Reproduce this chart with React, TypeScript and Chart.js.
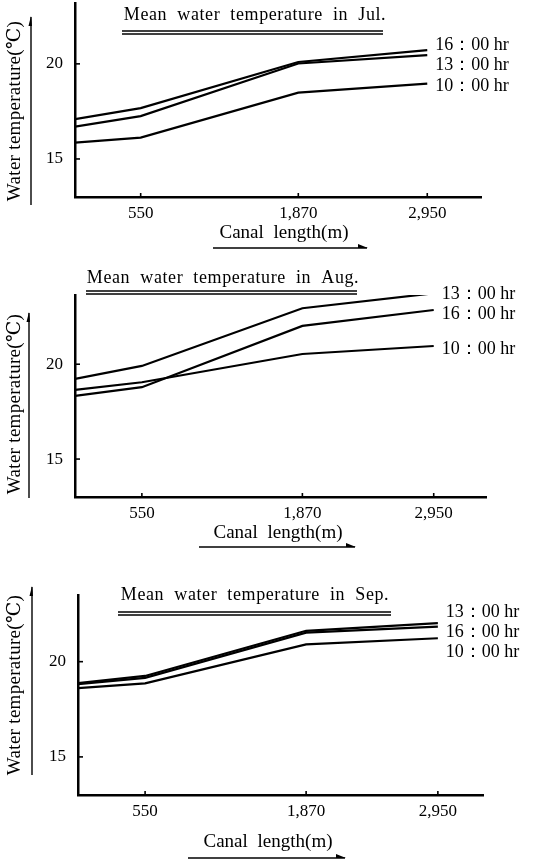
import React, { useEffect, useRef } from "react";
import { Chart, registerables } from "chart.js";

Chart.register(...registerables);

// ---- data ----
const canalLength = [0, 550, 1870, 2950];
const xTickValues = [550, 1870, 2950];
const yTickValues = [15, 20];
const timeLabels = ["10：00 hr", "13：00 hr", "16：00 hr"];

const julTemp10 = [15.86, 16.12, 18.49, 18.96];
const julTemp13 = [16.7, 17.25, 20.02, 20.46];
const julTemp16 = [17.09, 17.67, 20.1, 20.72];

const augTemp10 = [18.65, 19.05, 20.54, 20.96];
const augTemp13 = [19.23, 19.91, 22.95, 23.74];
const augTemp16 = [18.33, 18.79, 22.02, 22.86];

const sepTemp10 = [18.61, 18.86, 20.91, 21.23];
const sepTemp13 = [18.88, 19.25, 21.62, 22.02];
const sepTemp16 = [18.82, 19.15, 21.52, 21.84];

const FONT = '"Liberation Serif", "Times New Roman", "DejaVu Serif", serif';

type Panel = {
  key: string;
  height: number;
  chartTop: number;
  chartBottom: number;
  chartLeft: number;
  chartRight: number;
  yMax: number;
  xMax: number;
  title: string;
  titleX: number;
  titleY: number;
  ulX1: number;
  ulX2: number;
  ulY: number;
  yTitleX: number;
  yTitleY: number;
  yArrowX: number;
  yArrowTop: number;
  yArrowBottom: number;
  xTitleX: number;
  xTitleY: number;
  xArrowY: number;
  xArrowX1: number;
  xArrowX2: number;
  series: number[][];
};

const panels: Panel[] = [
  {
    key: "jul", height: 260, chartTop: 3, chartBottom: 197, chartLeft: 75, chartRight: 481,
    yMax: 23.2, xMax: 3400,
    title: "Mean water temperature in Jul.", titleX: 255, titleY: 15, ulX1: 122, ulX2: 383, ulY: 31,
    yTitleX: 15, yTitleY: 111, yArrowX: 31, yArrowTop: 17, yArrowBottom: 205,
    xTitleX: 284, xTitleY: 233, xArrowY: 248, xArrowX1: 213, xArrowX2: 367,
    series: [julTemp10, julTemp13, julTemp16],
  },
  {
    key: "aug", height: 300, chartTop: 35, chartBottom: 237, chartLeft: 75, chartRight: 486,
    yMax: 23.65, xMax: 3380,
    title: "Mean water temperature in Aug.", titleX: 223, titleY: 18, ulX1: 86, ulX2: 357, ulY: 31,
    yTitleX: 15, yTitleY: 144, yArrowX: 29, yArrowTop: 53, yArrowBottom: 238,
    xTitleX: 278, xTitleY: 273, xArrowY: 287, xArrowX1: 199, xArrowX2: 355,
    series: [augTemp10, augTemp13, augTemp16],
  },
  {
    key: "sep", height: 304, chartTop: 35, chartBottom: 235, chartLeft: 78, chartRight: 483,
    yMax: 23.5, xMax: 3320,
    title: "Mean water temperature in Sep.", titleX: 255, titleY: 35, ulX1: 118, ulX2: 391, ulY: 52,
    yTitleX: 15, yTitleY: 125, yArrowX: 32, yArrowTop: 27, yArrowBottom: 215,
    xTitleX: 268, xTitleY: 282, xArrowY: 298, xArrowX1: 188, xArrowX2: 345,
    series: [sepTemp10, sepTemp13, sepTemp16],
  },
];

const Y_AXIS_W = 36;
const X_AXIS_H = 26;

function spread(vals: number[], gap: number): number[] {
  const items = vals.map((v, i) => ({ v, i })).sort((a, b) => a.v - b.v);
  let clusters = items.map((it) => ({ members: [it], center: it.v }));
  let changed = true;
  while (changed) {
    changed = false;
    for (let k = 1; k < clusters.length; k++) {
      const a = clusters[k - 1];
      const b = clusters[k];
      const aEnd = a.center + ((a.members.length - 1) * gap) / 2;
      const bStart = b.center - ((b.members.length - 1) * gap) / 2;
      if (bStart - aEnd < gap) {
        const members = [...a.members, ...b.members];
        const center = members.reduce((s, m) => s + m.v, 0) / members.length;
        clusters.splice(k - 1, 2, { members, center });
        changed = true;
        break;
      }
    }
  }
  const out: number[] = new Array(vals.length);
  clusters.forEach((c) =>
    c.members.forEach((m, j) => {
      out[m.i] = c.center + (j - (c.members.length - 1) / 2) * gap;
    })
  );
  return out;
}

function makeDecor(p: Panel) {
  return {
    id: "decor_" + p.key,
    afterDraw(chart: any) {
      const ctx = chart.ctx as CanvasRenderingContext2D;
      const xs = chart.scales.x;
      const ys = chart.scales.y;
      const area = chart.chartArea;
      ctx.save();
      ctx.fillStyle = "#000";
      ctx.strokeStyle = "#000";

      // inward tick marks
      ctx.lineWidth = 1.6;
      xs.ticks.forEach((t: any) => {
        const px = xs.getPixelForValue(t.value);
        ctx.beginPath();
        ctx.moveTo(px, area.bottom);
        ctx.lineTo(px, area.bottom - 4);
        ctx.stroke();
      });
      ys.ticks.forEach((t: any) => {
        const py = ys.getPixelForValue(t.value);
        ctx.beginPath();
        ctx.moveTo(area.left, py);
        ctx.lineTo(area.left + 5, py);
        ctx.stroke();
      });

      // title with double underline
      ctx.font = `18px ${FONT}`;
      (ctx as any).letterSpacing = "0.6px";
      (ctx as any).wordSpacing = "5px";
      ctx.textAlign = "center";
      ctx.textBaseline = "middle";
      ctx.fillText(p.title, p.titleX, p.titleY);
      (ctx as any).letterSpacing = "0px";
      (ctx as any).wordSpacing = "0px";
      ctx.lineWidth = 1.3;
      ctx.beginPath();
      ctx.moveTo(p.ulX1, p.ulY);
      ctx.lineTo(p.ulX2, p.ulY);
      ctx.moveTo(p.ulX1, p.ulY + 3);
      ctx.lineTo(p.ulX2, p.ulY + 3);
      ctx.stroke();

      // right-side series labels
      const last = canalLength.length - 1;
      const endY = p.series.map((s) => ys.getPixelForValue(s[last]));
      const labY = spread(endY, 20);
      const endX = xs.getPixelForValue(canalLength[last]);
      ctx.font = `18px ${FONT}`;
      ctx.textAlign = "left";
      ctx.textBaseline = "middle";
      timeLabels.forEach((lab, i) => {
        ctx.fillText(lab, endX + 8, labY[i] + 3);
      });

      // y axis title (rotated) and arrow
      ctx.save();
      ctx.translate(p.yTitleX, p.yTitleY);
      ctx.rotate(-Math.PI / 2);
      ctx.font = `19px ${FONT}`;
      ctx.textAlign = "center";
      ctx.textBaseline = "middle";
      (ctx as any).letterSpacing = "0.3px";
      ctx.fillText("Water temperature(℃)", 0, 0);
      ctx.restore();
      ctx.lineWidth = 1.4;
      ctx.beginPath();
      ctx.moveTo(p.yArrowX, p.yArrowBottom);
      ctx.lineTo(p.yArrowX, p.yArrowTop);
      ctx.stroke();
      ctx.beginPath();
      ctx.moveTo(p.yArrowX, p.yArrowTop - 1);
      ctx.lineTo(p.yArrowX - 2.5, p.yArrowTop + 9);
      ctx.lineTo(p.yArrowX + 1, p.yArrowTop + 9);
      ctx.closePath();
      ctx.fill();

      // x axis title and arrow
      ctx.font = `19px ${FONT}`;
      (ctx as any).wordSpacing = "5px";
      ctx.textAlign = "center";
      ctx.textBaseline = "middle";
      ctx.fillText("Canal length(m)", p.xTitleX, p.xTitleY);
      (ctx as any).wordSpacing = "0px";
      ctx.lineWidth = 1.4;
      ctx.beginPath();
      ctx.moveTo(p.xArrowX1, p.xArrowY);
      ctx.lineTo(p.xArrowX2, p.xArrowY);
      ctx.stroke();
      ctx.beginPath();
      ctx.moveTo(p.xArrowX2 + 1, p.xArrowY);
      ctx.lineTo(p.xArrowX2 - 9, p.xArrowY - 4);
      ctx.lineTo(p.xArrowX2 - 9, p.xArrowY);
      ctx.closePath();
      ctx.fill();

      ctx.restore();
    },
  };
}

function PanelChart({ p }: { p: Panel }) {
  const ref = useRef<HTMLCanvasElement | null>(null);
  useEffect(() => {
    if (!ref.current) return;
    const datasets = p.series.map((vals, i) => ({
      label: timeLabels[i],
      data: canalLength.map((x, j) => ({ x, y: vals[j] })),
      borderColor: "#000",
      backgroundColor: "#000",
      borderWidth: 2.2,
      pointRadius: 0,
      tension: 0,
      fill: false,
    }));
    const chart = new Chart(ref.current, {
      type: "line",
      data: { datasets },
      options: {
        responsive: false,
        animation: false,
        devicePixelRatio: 1,
        layout: {
          padding: {
            top: p.chartTop,
            left: p.chartLeft - Y_AXIS_W,
            right: 534 - p.chartRight,
            bottom: p.height - p.chartBottom - X_AXIS_H,
          },
        },
        plugins: {
          legend: { display: false },
          tooltip: { enabled: false },
          title: { display: false },
        },
        scales: {
          x: {
            type: "linear",
            min: 0,
            max: p.xMax,
            afterBuildTicks: (s: any) => {
              s.ticks = xTickValues.map((v) => ({ value: v }));
            },
            afterFit: (s: any) => {
              s.height = X_AXIS_H;
              s.paddingLeft = 0;
              s.paddingRight = 0;
            },
            grid: { display: true, drawOnChartArea: false, drawTicks: false },
            border: { display: true, color: "#000", width: 2.5 },
            ticks: {
              color: "#000",
              padding: 6,
              maxRotation: 0,
              font: { family: FONT, size: 17 },
              callback: (v: any) => Number(v).toLocaleString("en-US"),
            },
          },
          y: {
            type: "linear",
            min: 13,
            max: p.yMax,
            afterBuildTicks: (s: any) => {
              s.ticks = yTickValues.map((v) => ({ value: v }));
            },
            afterFit: (s: any) => {
              s.width = Y_AXIS_W;
              s.paddingTop = 0;
              s.paddingBottom = 0;
            },
            grid: { display: true, drawOnChartArea: false, drawTicks: false },
            border: { display: true, color: "#000", width: 2.5 },
            ticks: {
              color: "#000",
              padding: 12,
              font: { family: FONT, size: 17 },
            },
          },
        },
      },
      plugins: [makeDecor(p)],
    });
    return () => chart.destroy();
  }, [p]);
  return (
    <canvas
      ref={ref}
      width={534}
      height={p.height}
      style={{ display: "block", width: 534, height: p.height }}
    />
  );
}

export default function App() {
  return (
    <div
      style={{
        position: "absolute",
        left: 0,
        top: 0,
        width: 534,
        height: 864,
        background: "#fff",
        overflow: "hidden",
      }}
    >
      {panels.map((p) => (
        <PanelChart key={p.key} p={p} />
      ))}
    </div>
  );
}
